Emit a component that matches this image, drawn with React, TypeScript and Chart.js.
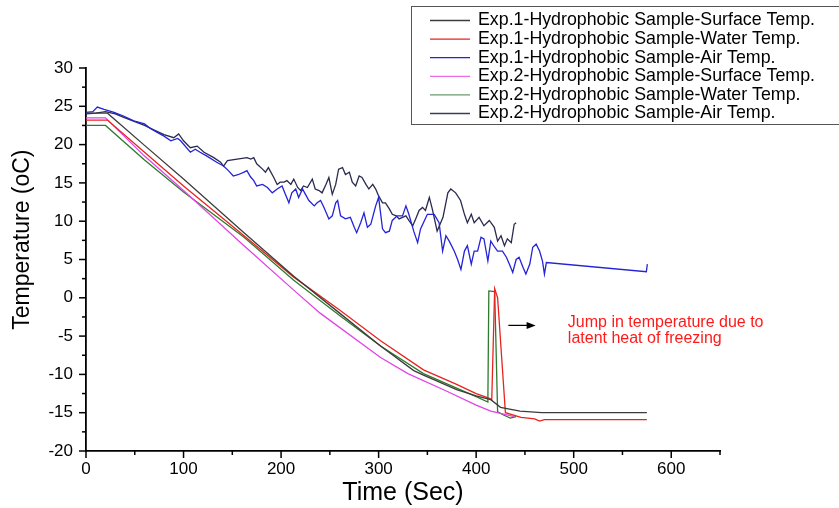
import React, { useEffect, useRef } from "react";
import { Chart, registerables } from "chart.js";

Chart.register(...registerables);

// ---------- Data ----------
const exp1SurfaceTime = [0, 22, 60, 100, 162, 213, 260, 302, 336, 346, 380, 400, 415, 425, 445, 467, 575];
const exp1SurfaceTemp = [24.1, 24.1, 19.9, 15.5, 8.5, 2.8, -2.0, -6.3, -9.5, -10.1, -12.0, -12.8, -13.3, -14.3, -14.8, -15.0, -15.0];

const exp1WaterTime = [0, 22, 60, 100, 162, 213, 260, 302, 346, 380, 400, 413, 416, 419, 422, 430, 446, 460, 465, 470, 575];
const exp1WaterTemp = [23.2, 23.2, 19.0, 14.6, 8.1, 2.7, -1.6, -5.6, -9.4, -11.3, -12.5, -13.1, -13.3, 1.2, 0.0, -15.0, -15.6, -15.8, -16.1, -15.9, -15.9];

const exp1AirTime = [0, 7, 11.6, 18.5, 28.8, 39, 49, 60, 66, 73, 80, 87, 94, 97, 107, 112, 117, 124, 134, 141, 146, 151, 156.5, 162, 165, 168.6, 172, 175, 181, 186, 191, 196, 201, 204.5, 208, 211, 215, 218, 222, 225, 228.5, 234, 237, 240.5, 244, 249, 252.5, 256, 258, 261, 266, 271, 275, 277.5, 281.6, 285, 288.5, 292, 297, 300, 304, 307, 311, 314, 319, 324.5, 328, 331, 336, 340, 343, 347, 350, 357, 362, 365.6, 369, 372.4, 377.5, 381, 384.4, 388, 391, 395, 398, 401.5, 405, 408, 412, 415, 419, 422, 427, 431, 434, 437.5, 441, 444, 448, 451, 455, 458, 461.5, 465, 468, 470, 472, 574.5, 575.5];
const exp1AirTemp = [24.2, 24.3, 24.9, 24.6, 24.2, 23.7, 23.1, 22.7, 22.1, 21.6, 21.1, 20.5, 20.8, 20.5, 19.0, 19.4, 19.0, 18.5, 17.7, 17.2, 16.6, 15.9, 16.1, 16.4, 16.6, 15.8, 15.3, 14.6, 14.8, 14.4, 13.7, 14.2, 14.6, 13.5, 12.4, 13.7, 14.2, 13.1, 14.2, 13.5, 12.7, 12.0, 12.4, 12.7, 11.8, 10.3, 10.7, 12.4, 12.7, 10.7, 10.3, 10.5, 9.2, 8.5, 9.8, 11.1, 9.2, 9.6, 12.0, 13.1, 9.0, 8.5, 8.7, 10.1, 10.7, 10.7, 12.0, 10.9, 8.7, 7.2, 9.0, 10.1, 10.9, 10.9, 9.8, 6.1, 8.1, 7.4, 6.1, 5.0, 3.7, 6.1, 6.8, 4.4, 6.1, 6.1, 7.9, 7.7, 4.8, 7.4, 6.6, 6.1, 6.1, 5.3, 4.4, 3.3, 5.0, 5.3, 4.0, 3.1, 4.4, 6.6, 7.0, 6.1, 4.8, 3.1, 4.6, 3.4, 4.4];

const exp2SurfaceTime = [0, 20, 60, 100, 162, 213, 240, 302, 330, 370, 400, 415, 425, 439];
const exp2SurfaceTemp = [23.5, 23.5, 18.5, 14.0, 6.8, 1.0, -2.0, -7.8, -9.9, -12.2, -14.0, -14.8, -15.1, -15.5];

const exp2WaterTime = [0, 20, 60, 100, 162, 213, 260, 302, 346, 380, 400, 412, 413, 419, 422, 428, 435, 441];
const exp2WaterTemp = [22.5, 22.5, 18.0, 13.8, 7.9, 2.3, -2.3, -6.3, -9.9, -11.8, -12.9, -13.6, 0.9, 0.8, -14.9, -15.3, -15.7, -15.5];

const exp2AirTime = [0, 10, 20, 30, 40, 50, 60, 70, 80, 90, 95, 100, 107, 114, 121, 131, 138, 141, 145, 155, 165, 169, 172, 175, 181, 184, 187, 192.5, 196, 199, 203, 206, 210, 213, 217, 220, 223, 227, 232, 235, 239, 242, 246, 249, 252.5, 256, 259, 263, 266, 270, 273, 276.5, 280, 283, 287, 290, 294, 297, 300, 304, 307, 311, 314, 318, 321, 324.5, 328, 331, 335, 338, 341.5, 345, 348, 352, 355, 360, 366, 371, 374, 379, 384, 388, 391, 395, 398, 403, 408, 413.5, 418.6, 422, 425.5, 429, 432, 436, 439, 441];
const exp2AirTemp = [24.0, 24.1, 24.3, 24.0, 23.5, 23.0, 22.5, 21.9, 21.3, 20.9, 21.4, 20.5, 19.6, 19.8, 19.0, 18.3, 17.7, 17.2, 17.9, 18.1, 18.3, 18.1, 18.3, 17.5, 16.8, 16.4, 17.0, 15.7, 14.8, 15.1, 15.1, 15.3, 14.8, 15.5, 14.4, 14.0, 14.6, 14.4, 15.5, 14.2, 14.0, 13.7, 14.8, 15.7, 13.5, 14.8, 16.8, 17.0, 16.1, 16.4, 15.1, 14.6, 15.9, 15.7, 14.8, 14.2, 14.8, 14.2, 13.3, 12.4, 12.4, 11.6, 10.9, 10.7, 10.3, 10.5, 10.7, 10.1, 9.4, 10.3, 11.4, 11.8, 11.4, 13.1, 11.6, 8.7, 10.5, 13.7, 14.2, 13.7, 12.7, 10.9, 9.8, 10.9, 9.8, 10.5, 9.4, 10.1, 9.2, 7.4, 8.1, 6.8, 7.7, 7.2, 9.6, 9.8];

const seriesLabels = [
  "Exp.1-Hydrophobic Sample-Surface Temp.",
  "Exp.1-Hydrophobic Sample-Water Temp.",
  "Exp.1-Hydrophobic Sample-Air Temp.",
  "Exp.2-Hydrophobic Sample-Surface Temp.",
  "Exp.2-Hydrophobic Sample-Water Temp.",
  "Exp.2-Hydrophobic Sample-Air Temp.",
];
const seriesColors = ["#3c3c3c", "#e8231f", "#2323d8", "#e244e6", "#2f7a2f", "#2a2a4e"];
const legendColors = ["#3c3c3c", "#e8231f", "#2323d8", "#ea6ae8", "#6a9a6a", "#3c3c58"];

const xTicks = [0, 100, 200, 300, 400, 500, 600];
const yTicks = [-20, -15, -10, -5, 0, 5, 10, 15, 20, 25, 30];

const yAxisTitle = "Temperature (oC)";
const xAxisTitle = "Time (Sec)";
const annotationLines = ["Jump in temperature due to", "latent heat of freezing"];

const FONT = "'Liberation Sans', Arial, sans-serif";

const pairs = (ts: number[], vs: number[]) => ts.map((t, i) => ({ x: t, y: vs[i] }));

const allSeries = [
  pairs(exp1SurfaceTime, exp1SurfaceTemp),
  pairs(exp1WaterTime, exp1WaterTemp),
  pairs(exp1AirTime, exp1AirTemp),
  pairs(exp2SurfaceTime, exp2SurfaceTemp),
  pairs(exp2WaterTime, exp2WaterTemp),
  pairs(exp2AirTime, exp2AirTemp),
];

const decorPlugin = {
  id: "decor",
  afterDraw(chart: any) {
    const { ctx, scales } = chart;
    const x = scales.x;
    const y = scales.y;
    ctx.save();
    // tick marks (major + minor), outward
    ctx.strokeStyle = "#000";
    ctx.lineWidth = 1.5;
    for (let v = -20; v <= 30.001; v += 2.5) {
      const py = y.getPixelForValue(v);
      const major = Math.abs(v / 5 - Math.round(v / 5)) < 1e-6;
      const len = major ? 7 : 4;
      ctx.beginPath();
      ctx.moveTo(x.left, py);
      ctx.lineTo(x.left - len, py);
      ctx.stroke();
    }
    for (let v = 0; v <= 650.001; v += 50) {
      const px = x.getPixelForValue(v);
      const major = v % 100 === 0;
      const len = major ? 7 : 4;
      ctx.beginPath();
      ctx.moveTo(px, y.bottom);
      ctx.lineTo(px, y.bottom + len);
      ctx.stroke();
    }

    // y axis title
    ctx.save();
    ctx.translate(23, y.getPixelForValue(7.6));
    ctx.rotate(-Math.PI / 2);
    ctx.fillStyle = "#000";
    ctx.font = `23px ${FONT}`;
    ctx.textAlign = "center";
    ctx.textBaseline = "middle";
    ctx.fillText(yAxisTitle, 0, 0);
    ctx.restore();

    // annotation arrow and text (data coordinates)
    const ax0 = x.getPixelForValue(433);
    const ax1 = x.getPixelForValue(461);
    const ay = y.getPixelForValue(-3.6);
    ctx.strokeStyle = "#000";
    ctx.lineWidth = 1.2;
    ctx.beginPath();
    ctx.moveTo(ax0, ay);
    ctx.lineTo(ax1 - 6, ay);
    ctx.stroke();
    ctx.fillStyle = "#000";
    ctx.beginPath();
    ctx.moveTo(ax1, ay);
    ctx.lineTo(ax1 - 9, ay - 3.5);
    ctx.lineTo(ax1 - 9, ay + 3.5);
    ctx.closePath();
    ctx.fill();

    ctx.fillStyle = "#ff1a1a";
    ctx.font = `16px ${FONT}`;
    ctx.textBaseline = "middle";
    ctx.textAlign = "left";
    const tx = x.getPixelForValue(494);
    ctx.fillText(annotationLines[0], tx, y.getPixelForValue(-3.3));
    ctx.fillText(annotationLines[1], tx, y.getPixelForValue(-5.3));

    // legend box
    const bx = 411.5;
    const by = 6.5;
    const bh = 118;
    ctx.fillStyle = "#fff";
    ctx.fillRect(bx, by, 500, bh);
    ctx.strokeStyle = "#555";
    ctx.lineWidth = 1;
    ctx.strokeRect(bx, by, 500, bh);
    ctx.font = `17.8px ${FONT}`;
    ctx.textBaseline = "middle";
    for (let i = 0; i < seriesLabels.length; i++) {
      const ry = 20.5 + i * 18.6;
      ctx.strokeStyle = legendColors[i];
      ctx.lineWidth = 1.3;
      ctx.beginPath();
      ctx.moveTo(430, ry);
      ctx.lineTo(470, ry);
      ctx.stroke();
      ctx.fillStyle = "#000";
      ctx.fillText(seriesLabels[i], 478, ry);
    }
    ctx.restore();
  },
};

export default function App() {
  const ref = useRef<HTMLCanvasElement | null>(null);

  useEffect(() => {
    if (!ref.current) return;
    const chart = new Chart(ref.current, {
      type: "line",
      data: {
        datasets: allSeries.map((d, i) => ({
          label: seriesLabels[i],
          data: d,
          borderColor: seriesColors[i],
          backgroundColor: seriesColors[i],
          borderWidth: 1.3,
          pointRadius: 0,
          tension: 0,
          fill: false,
        })),
      },
      options: {
        animation: false,
        responsive: true,
        maintainAspectRatio: false,
        parsing: false as any,
        layout: { padding: { top: 68, right: 119, left: 0, bottom: 0 } },
        plugins: {
          legend: { display: false },
          tooltip: { enabled: false },
        },
        scales: {
          x: {
            type: "linear",
            min: 0,
            max: 650,
            afterBuildTicks: (s: any) => {
              s.ticks = xTicks.map((v) => ({ value: v }));
            },
            afterFit: (s: any) => {
              s.height = 57;
            },
            grid: { display: false, drawTicks: false },
            border: { display: true, color: "#000", width: 1.8 },
            ticks: {
              padding: 8,
              color: "#000",
              maxRotation: 0,
              font: { family: FONT, size: 17 },
            },
            title: {
              display: true,
              text: xAxisTitle,
              color: "#000",
              font: { family: FONT, size: 25 },
              padding: { top: 0, bottom: 0 },
            },
          },
          y: {
            type: "linear",
            min: -20,
            max: 30,
            afterBuildTicks: (s: any) => {
              s.ticks = yTicks.map((v) => ({ value: v }));
            },
            afterFit: (s: any) => {
              s.width = 86;
            },
            grid: { display: false, drawTicks: false },
            border: { display: true, color: "#000", width: 1.8 },
            ticks: {
              padding: 13,
              color: "#000",
              font: { family: FONT, size: 17 },
            },
            title: { display: false },
          },
        },
      },
      plugins: [decorPlugin],
    });
    return () => chart.destroy();
  }, []);

  return (
    <div style={{ position: "fixed", left: 0, top: 0, width: 839, height: 508, background: "#fff" }}>
      <canvas ref={ref} />
    </div>
  );
}
